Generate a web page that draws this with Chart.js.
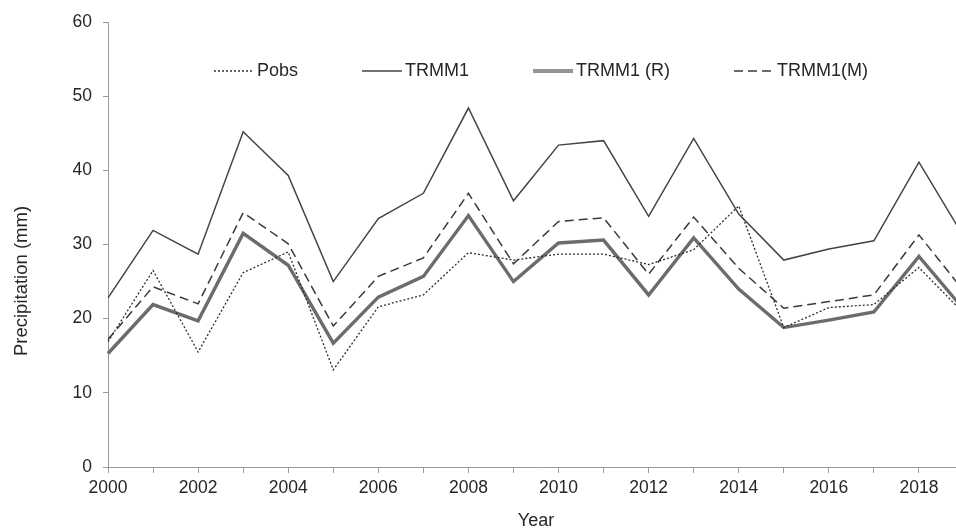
<!DOCTYPE html>
<html lang="en">
<head>
<meta charset="UTF-8">
<title>Precipitation</title>
<script src="https://cdn.jsdelivr.net/npm/chart.js"></script>
<style>
    body {
        margin: 0;
        background: #ffffff;
        overflow: hidden;
    }
    .wrap {
        width: 956px;
        height: 532px;
        overflow: hidden;
    }
</style>
</head>
<body>
<div class="wrap">
    <canvas id="precipChart" width="1010" height="532"></canvas>
</div>
<script>
    const years = [2000, 2001, 2002, 2003, 2004, 2005, 2006, 2007, 2008, 2009,
                   2010, 2011, 2012, 2013, 2014, 2015, 2016, 2017, 2018, 2019];
    const pobs   = [16.9, 26.5, 15.5, 26.2, 29.0, 13.1, 21.6, 23.2, 28.9, 27.9,
                    28.7, 28.7, 27.3, 29.3, 35.2, 18.8, 21.5, 21.9, 26.9, 20.7];
    const trmm1  = [22.8, 31.9, 28.7, 45.2, 39.3, 25.0, 33.5, 36.9, 48.4, 35.9,
                    43.4, 44.0, 33.8, 44.3, 34.1, 27.9, 29.4, 30.5, 41.1, 31.0];
    const trmm1R = [15.3, 21.9, 19.7, 31.5, 27.2, 16.7, 22.9, 25.7, 33.9, 25.0,
                    30.2, 30.6, 23.2, 30.9, 24.0, 18.8, 19.8, 20.9, 28.4, 21.2];
    const trmm1M = [17.2, 24.3, 22.0, 34.3, 30.1, 19.0, 25.7, 28.2, 36.9, 27.4,
                    33.1, 33.6, 26.0, 33.7, 26.8, 21.4, 22.3, 23.2, 31.3, 23.7];
    const yMin = 0, yMax = 60, yStep = 10;

    const FONT = '"Liberation Sans", Arial, sans-serif';
    const TEXT = '#262626';
    const AXIS = '#9a9a9a';

    // legend entries -> dataset indexes used to draw the sample line
    const legendItems = [
        { label: 'Pobs', sets: [0] },
        { label: 'TRMM1', sets: [1] },
        { label: 'TRMM1 (R)', sets: [2, 3] },
        { label: 'TRMM1(M)', sets: [4] }
    ];

    // legend sits inside the plot area and the y title is set low, so draw both here
    const overlayText = {
        id: 'overlayText',
        afterDraw(chart) {
            const ctx = chart.ctx;
            const y = 71;
            let x = 214;
            ctx.save();
            ctx.font = '18px ' + FONT;
            ctx.textBaseline = 'middle';
            legendItems.forEach(item => {
                item.sets.forEach(i => {
                    const ds = chart.data.datasets[i];
                    ctx.beginPath();
                    ctx.strokeStyle = ds.borderColor;
                    ctx.lineWidth = ds.borderWidth;
                    ctx.setLineDash(ds.borderDash || []);
                    ctx.moveTo(x, y);
                    ctx.lineTo(x + 40, y);
                    ctx.stroke();
                });
                ctx.setLineDash([]);
                ctx.fillStyle = TEXT;
                ctx.fillText(item.label, x + 43, y);
                x += 43 + ctx.measureText(item.label).width + 64;
            });

            // y axis title
            ctx.translate(22, 281);
            ctx.rotate(-Math.PI / 2);
            ctx.textAlign = 'center';
            ctx.font = '18.5px ' + FONT;
            ctx.fillText('Precipitation (mm)', 0, 0);
            ctx.restore();
        }
    };

    const ctx = document.getElementById('precipChart').getContext('2d');
    new Chart(ctx, {
        type: 'line',
        data: {
            labels: years.map(String),
            datasets: [
                {
                    label: 'Pobs',
                    data: pobs,
                    borderColor: '#2e2e2e',
                    borderWidth: 1.3,
                    borderDash: [2, 2]
                },
                {
                    label: 'TRMM1',
                    data: trmm1,
                    borderColor: '#444444',
                    borderWidth: 1.5
                },
                {
                    label: 'TRMM1 (R)',
                    data: trmm1R,
                    borderColor: '#6c6c6c',
                    borderWidth: 3.4
                },
                {
                    label: 'TRMM1 (R) inner',
                    data: trmm1R,
                    borderColor: '#a4a4a4',
                    borderWidth: 1.4
                },
                {
                    label: 'TRMM1(M)',
                    data: trmm1M,
                    borderColor: '#3a3a3a',
                    borderWidth: 1.5,
                    borderDash: [9, 5]
                }
            ]
        },
        options: {
            responsive: false,
            animation: false,
            devicePixelRatio: 1,
            elements: {
                point: { radius: 0 },
                line: { tension: 0, fill: false }
            },
            layout: {
                padding: { left: 0, right: 46, top: 22, bottom: 0 }
            },
            plugins: {
                legend: { display: false },
                tooltip: { enabled: false }
            },
            scales: {
                x: {
                    offset: false,
                    grid: {
                        drawOnChartArea: false,
                        drawTicks: true,
                        tickLength: 6,
                        color: AXIS
                    },
                    border: { color: AXIS, width: 1 },
                    ticks: {
                        autoSkip: false,
                        maxRotation: 0,
                        padding: 5,
                        color: TEXT,
                        font: { family: FONT, size: 17.5 },
                        callback: (val, i) => (years[i] % 2 === 0 ? String(years[i]) : '')
                    },
                    title: {
                        display: true,
                        text: 'Year',
                        color: TEXT,
                        font: { family: FONT, size: 18 },
                        padding: { top: 0, bottom: 0 }
                    },
                    afterFit(scale) { scale.height = 65; }
                },
                y: {
                    min: yMin,
                    max: yMax,
                    grid: {
                        drawOnChartArea: false,
                        drawTicks: true,
                        tickLength: 5,
                        color: AXIS
                    },
                    border: { color: AXIS, width: 1 },
                    ticks: {
                        stepSize: yStep,
                        padding: 11,
                        color: TEXT,
                        font: { family: FONT, size: 17.5 }
                    },
                    afterFit(scale) { scale.width = 108; }
                }
            }
        },
        plugins: [overlayText]
    });
</script>
</body>
</html>
